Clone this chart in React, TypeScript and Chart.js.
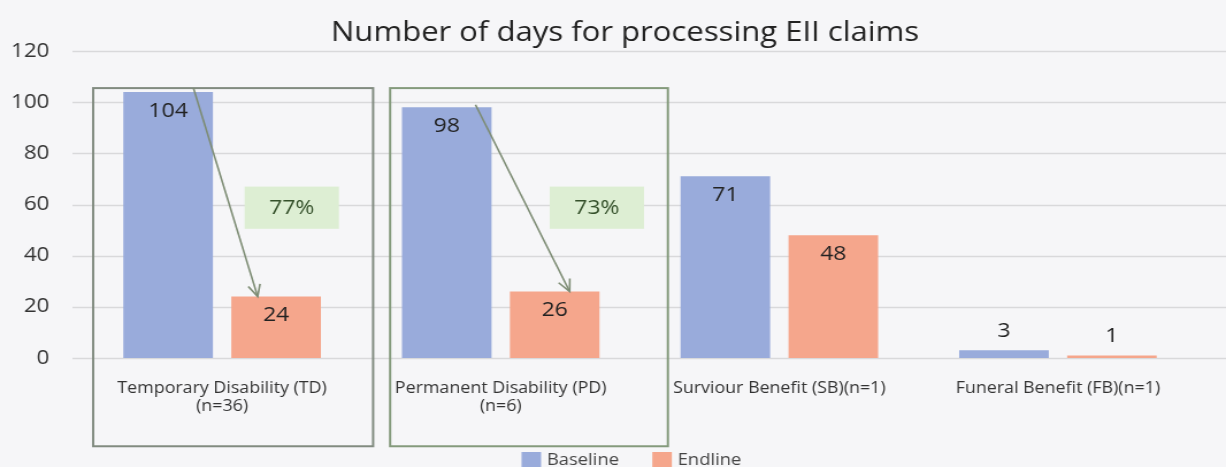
import React, { useEffect, useRef } from "react";
import { Chart, registerables } from "chart.js";

Chart.register(...registerables);

const chartTitle = "Number of days for processing EII claims";
const categories: (string | string[])[] = [
  ["Temporary Disability (TD)", "(n=36)"],
  ["Permanent Disability (PD)", "(n=6)"],
  "Surviour Benefit (SB)(n=1)",
  "Funeral Benefit (FB)(n=1)",
];
const seriesNames = ["Baseline", "Endline"];
const baselineValues = [104, 98, 71, 3];
const endlineValues = [24, 26, 48, 1];
const reductionLabels = ["77%", "73%"];
const yMin = 0;
const yMax = 120;
const yStep = 20;

const W = 1226;
const H = 467;
const STRETCH = 1.15;
const CW = Math.round(W / STRETCH);

const FONT = "'Open Sans', 'Noto Sans', sans-serif";
const BLUE = "rgb(153,171,219)";
const SALMON = "rgb(245,166,140)";
const GRID = "#d9d9db";
const BG = "#f6f6f8";

const titlePlugin = {
  id: "customTitle",
  afterDraw(chart: any) {
    const { ctx } = chart;
    ctx.save();
    ctx.font = `27px ${FONT}`;
    ctx.fillStyle = "#222";
    ctx.textAlign = "center";
    ctx.textBaseline = "middle";
    ctx.fillText(chartTitle, 625 / STRETCH, 33);
    ctx.restore();
  },
};

const gridPlugin = {
  id: "extGrid",
  beforeDatasetsDraw(chart: any) {
    const { ctx, chartArea, scales } = chart;
    const y = scales.y;
    ctx.save();
    ctx.strokeStyle = GRID;
    ctx.lineWidth = 1.5;
    for (let v = yMin; v <= yMax; v += yStep) {
      const py = Math.round(y.getPixelForValue(v)) + 0.5;
      ctx.beginPath();
      ctx.moveTo(chartArea.left - 9, py);
      ctx.lineTo(chart.width, py);
      ctx.stroke();
    }
    ctx.restore();
  },
};

const labelPlugin = {
  id: "barLabels",
  afterDatasetsDraw(chart: any) {
    const { ctx } = chart;
    ctx.save();
    ctx.font = `20px ${FONT}`;
    ctx.fillStyle = "#222";
    ctx.textAlign = "center";
    ctx.textBaseline = "middle";
    chart.data.datasets.forEach((ds: any, di: number) => {
      const meta = chart.getDatasetMeta(di);
      meta.data.forEach((bar: any, i: number) => {
        const v = ds.data[i];
        const ty = v >= 10 ? bar.y + 19 : bar.y - 19;
        ctx.fillText(String(v), bar.x, ty);
      });
    });
    ctx.restore();
  },
};

const drawArrow = (ctx: any, x1: number, y1: number, x2: number, y2: number) => {
  ctx.beginPath();
  ctx.moveTo(x1, y1);
  ctx.lineTo(x2, y2);
  ctx.stroke();
  const ang = Math.atan2(y2 - y1, x2 - x1);
  const len = 13;
  const spread = 0.42;
  ctx.beginPath();
  ctx.moveTo(x2 - len * Math.cos(ang - spread), y2 - len * Math.sin(ang - spread));
  ctx.lineTo(x2, y2);
  ctx.lineTo(x2 - len * Math.cos(ang + spread), y2 - len * Math.sin(ang + spread));
  ctx.stroke();
};

const annotationPlugin = {
  id: "annotations",
  afterDatasetsDraw(chart: any) {
    const { ctx, chartArea, scales } = chart;
    const x = scales.x;
    const y = scales.y;
    const cw = (chartArea.right - chartArea.left) / categories.length;
    const mb = chart.getDatasetMeta(0).data;
    const me = chart.getDatasetMeta(1).data;
    ctx.save();
    const frames = [
      { l: -0.463, r: 0.542, color: "#818b80" },
      { l: -0.397, r: 0.6, color: "#849a7c" },
    ];
    ctx.lineWidth = 2;
    frames.forEach((f, i) => {
      const cx = x.getPixelForValue(i);
      const l = cx + f.l * cw;
      const r = cx + f.r * cw;
      const t = y.getPixelForValue(105.5);
      const b = y.getPixelForValue(-34.5);
      ctx.strokeStyle = f.color;
      ctx.strokeRect(l, t, r - l, b - t);
    });
    ctx.strokeStyle = "#7d8c74";
    ctx.lineWidth = 1.6;
    drawArrow(ctx, mb[0].x + 22, y.getPixelForValue(105.5), me[0].x - 16, me[0].y);
    drawArrow(ctx, mb[1].x + 25, y.getPixelForValue(99), me[1].x + 13, me[1].y);
    const offs = [0.25, 0.345];
    reductionLabels.forEach((lab, i) => {
      const cx = x.getPixelForValue(i) + offs[i] * cw;
      const t = y.getPixelForValue(67);
      const b = y.getPixelForValue(50.5);
      ctx.fillStyle = "rgb(221,238,211)";
      ctx.fillRect(cx - 41, t, 82, b - t);
      ctx.fillStyle = "#34502a";
      ctx.font = `20px ${FONT}`;
      ctx.textAlign = "center";
      ctx.textBaseline = "middle";
      ctx.fillText(lab, cx, (t + b) / 2 + 1);
    });
    ctx.restore();
  },
};

const legendPlugin = {
  id: "customLegend",
  afterDraw(chart: any) {
    const { ctx } = chart;
    ctx.save();
    ctx.font = `16px ${FONT}`;
    ctx.textBaseline = "middle";
    ctx.textAlign = "left";
    const ds = chart.data.datasets;
    const boxW = 17;
    const boxH = 15;
    const gap = 5;
    const itemGap = 29;
    const widths = ds.map((d: any) => ctx.measureText(d.label).width);
    const total = ds.reduce((s: number, _d: any, i: number) => s + boxW + gap + widths[i], 0) + itemGap * (ds.length - 1);
    let px = 549 - total / 2;
    const cy = 459;
    ds.forEach((d: any, i: number) => {
      ctx.fillStyle = d.backgroundColor;
      ctx.fillRect(px, cy - 7, boxW, boxH);
      px += boxW + gap;
      ctx.fillStyle = "#444";
      ctx.fillText(d.label, px, cy + 1);
      px += widths[i] + itemGap;
    });
    ctx.restore();
  },
};

export default function App() {
  const ref = useRef<HTMLCanvasElement | null>(null);
  useEffect(() => {
    if (!ref.current) return;
    const chart = new Chart(ref.current, {
      type: "bar",
      data: {
        labels: categories,
        datasets: [
          { label: seriesNames[0], data: baselineValues, backgroundColor: BLUE, categoryPercentage: 0.775, barPercentage: 0.83 },
          { label: seriesNames[1], data: endlineValues, backgroundColor: SALMON, categoryPercentage: 0.775, barPercentage: 0.83 },
        ],
      },
      options: {
        responsive: false,
        animation: false,
        layout: { padding: { left: 0, right: 25, top: 51, bottom: 0 } },
        plugins: {
          legend: { display: false },
          tooltip: { enabled: false },
          title: { display: false },
        },
        scales: {
          x: {
            grid: { display: false, drawTicks: false },
            border: { display: false },
            ticks: { color: "#333", font: { family: FONT, size: 15.5 }, padding: 21, maxRotation: 0, autoSkip: false },
            afterFit: (s: any) => { s.height = 109; },
          },
          y: {
            min: yMin,
            max: yMax,
            grid: { display: false, drawTicks: false },
            border: { display: false },
            ticks: { stepSize: yStep, color: "#333", font: { family: FONT, size: 19.5 }, padding: 29 },
            afterFit: (s: any) => { s.width = 72; },
          },
        },
      },
      plugins: [gridPlugin, labelPlugin, annotationPlugin, legendPlugin, titlePlugin],
    } as any);
    return () => chart.destroy();
  }, []);
  return (
    <div style={{ position: "fixed", left: 0, top: 0, width: W, height: H, background: BG, overflow: "hidden" }}>
      <canvas
        ref={ref}
        width={CW}
        height={H}
        style={{ display: "block", width: CW, height: H, transform: `scale(${W / CW}, 1)`, transformOrigin: "0 0" }}
      />
    </div>
  );
}
